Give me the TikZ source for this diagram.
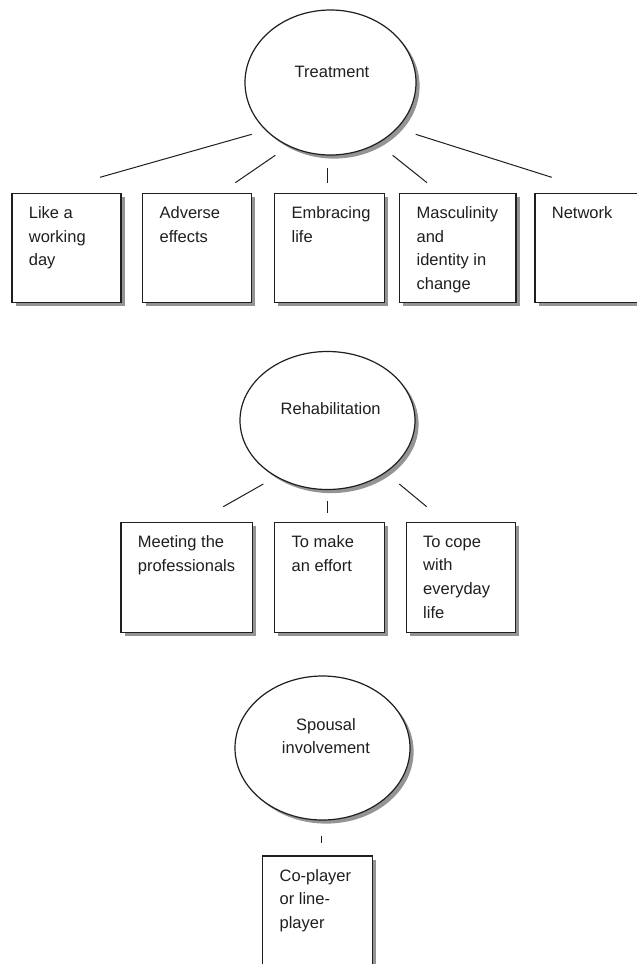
\documentclass[tikz,border=0pt]{standalone}
\usepackage{fontspec}
\setmainfont{Liberation Sans}
\usetikzlibrary{shapes.geometric,shadows}
\begin{document}
\begin{tikzpicture}[x=1pt,y=-1pt,
  ink/.style={black!88},
  shad/.style={drop shadow={shadow xshift=3.6pt, shadow yshift=-3.6pt, fill=black!42, opacity=1}},
  box/.style={draw=black!88, line width=1.2pt, fill=white, anchor=north west,
    minimum width=#1, minimum height=109.5pt, inner sep=0pt, outer sep=0pt, shad},
  oval/.style={ellipse, draw=black!88, line width=1.2pt, fill=white, inner sep=0pt, outer sep=0pt, shad},
  txt/.style={font=\fontsize{16.5}{23.7}\selectfont, text=black!88, inner sep=0pt, align=left,
    anchor=north west, shift={(16.7,13)}},
  ctxt/.style={font=\fontsize{16.5}{23.7}\selectfont, text=black!88, inner sep=0pt, align=center},
  link/.style={draw=black!88, line width=1pt}]
\useasboundingbox (0,0) rectangle (637,964);
\clip (0,0) rectangle (637,964);
\fill[white] (0,0) rectangle (637,964);

% ---------- Treatment ----------
\node[oval, minimum width=171pt, minimum height=145pt] (treat) at (330.5,82.5) {};
\node[ctxt, anchor=base] (treatl) at (332,77.3) {Treatment};

\node[box=109pt] (t1) at (12,193.3) {};
\node[box=109pt] (t2) at (142.7,193.3) {};
\node[box=109.6pt] (t3) at (274.7,193.3) {};
\node[box=116.3pt] (t4) at (399.7,193.3) {};
\node[box=110pt] (t5) at (535,193.3) {};
\node[txt] (t1l) at (t1.north west) {Like a\\working\\day};
\node[txt] (t2l) at (t2.north west) {Adverse\\effects};
\node[txt] (t3l) at (t3.north west) {Embracing\\life};
\node[txt] (t4l) at (t4.north west) {Masculinity\\and\\identity in\\change};
\node[txt] (t5l) at (t5.north west) {Network};

\coordinate (a1) at (251.7,134.3); \coordinate (b1) at (100,177.3);
\coordinate (a2) at (275.3,155.3); \coordinate (b2) at (235.3,182.7);
\coordinate (a3) at (327.7,167.7); \coordinate (b3) at (327.7,182.7);
\coordinate (a4) at (392.7,155.3); \coordinate (b4) at (427,182.7);
\coordinate (a5) at (415.7,134.3); \coordinate (b5) at (551.7,177.3);
\foreach \i in {1,...,5} \draw[link] (a\i) -- (b\i);

% ---------- Rehabilitation ----------
\node[oval, minimum width=175pt, minimum height=138pt] (rehab) at (327.5,420.5) {};
\node[ctxt, anchor=base] (rehabl) at (330.7,414) {Rehabilitation};

\node[box=131.3pt] (r1) at (121,522.7) {};
\node[box=109.6pt] (r2) at (274.7,522.7) {};
\node[box=109.4pt] (r3) at (406.3,522.7) {};
\node[txt] (r1l) at (r1.north west) {Meeting the\\professionals};
\node[txt] (r2l) at (r2.north west) {To make\\an effort};
\node[txt] (r3l) at (r3.north west) {To cope\\with\\everyday\\life};

\coordinate (c1) at (263.3,484); \coordinate (d1) at (223.3,506.7);
\coordinate (c2) at (327.7,500.7); \coordinate (d2) at (327.7,513.3);
\coordinate (c3) at (399.3,484); \coordinate (d3) at (426.7,506.7);
\foreach \i in {1,2,3} \draw[link] (c\i) -- (d\i);

% ---------- Spousal involvement ----------
\node[oval, minimum width=175pt, minimum height=144pt] (spouse) at (322.5,748) {};
\node[ctxt, anchor=north] (spousel) at (326,718) {Spousal\\involvement};

\node[box=110pt, minimum height=125pt] (s1) at (262.7,856) {};
\node[txt] (s1l) at (s1.north west) {Co-player\\or line-\\player};

\coordinate (e1) at (321,836); \coordinate (f1) at (321,843.3);
\draw[link] (e1) -- (f1);
\end{tikzpicture}
\end{document}
